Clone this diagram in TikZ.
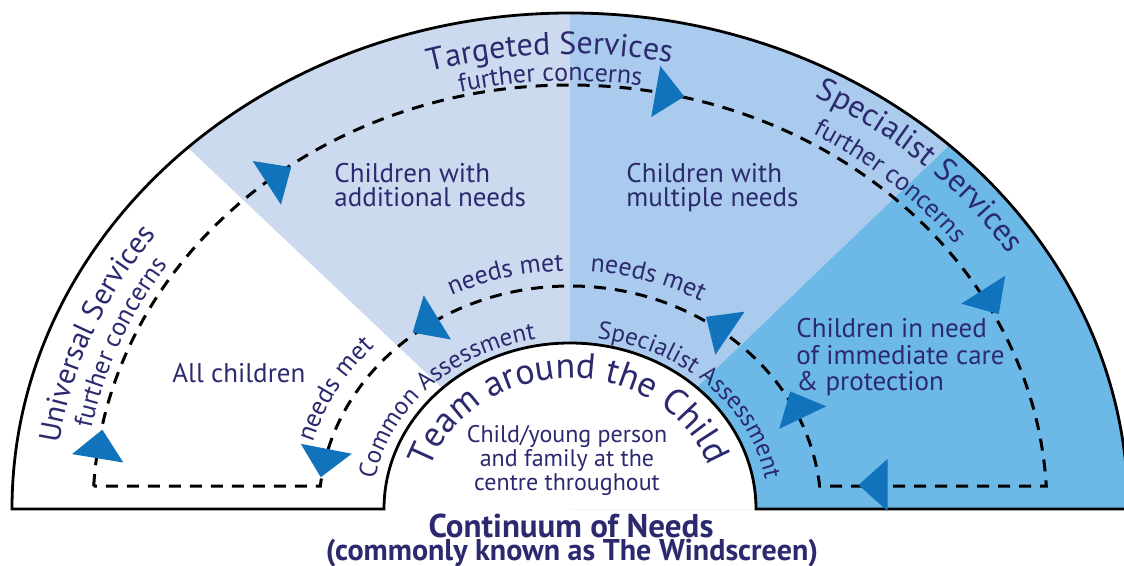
\documentclass[tikz,border=0pt]{standalone}
\usepackage{fontspec}
\setmainfont{PT Sans}
\usetikzlibrary{decorations.text}

\definecolor{navy}{RGB}{44,42,110}
\definecolor{targetedA}{RGB}{204,218,240}
\definecolor{targetedB}{RGB}{170,203,237}
\definecolor{specialist}{RGB}{108,184,230}
\definecolor{flowblue}{RGB}{16,115,187}

\newcommand\svcfont{\fontsize{16}{18}\selectfont}
\newcommand\univfont{\fontsize{15}{18}\selectfont}
\newcommand\concfont{\fontsize{13}{15}\selectfont}
\newcommand\bodyfont{\fontsize{13.5}{12}\selectfont}
\newcommand\carefont{\fontsize{13.5}{13.25}\selectfont}
\newcommand\teamfont{\fontsize{18}{20}\selectfont}
\newcommand\assessfont{\fontsize{12.5}{14}\selectfont}
\newcommand\metfont{\fontsize{13}{14}\selectfont}
\newcommand\centrefont{\fontsize{12}{10}\selectfont}
\newcommand\titlefont{\bfseries\fontsize{16.5}{18}\selectfont}
\newcommand\subtitlefont{\bfseries\fontsize{15}{18}\selectfont}

\tikzset{
  flowhead/.pic={\fill[flowblue] (14.5,0) -- (-14.5,26) -- (-14.5,-26) -- cycle;},
  arclabel/.style={decorate,decoration={text along path,text align=center,text color=navy,text={#1}}}
}

\begin{document}
\begin{tikzpicture}[x=0.5pt,y=0.5pt]
\tikzstyle{every node}+=[inner sep=0pt, text=navy]
\tikzstyle{outline}=[black, line width=1.4pt]
\tikzstyle{loop}=[black, line width=1.5pt, dash pattern=on 6pt off 4.5pt]
\useasboundingbox (0,0) rectangle (1124,-566);
\coordinate (O) at (570,-509);
\begin{scope}
\clip (12,-509) arc[start angle=180,end angle=0,x radius=558,y radius=496] -- cycle;
\fill[targetedA] (O) -- ([shift={(136.6:900)}]O) -- (570,100) -- cycle;
\fill[targetedB] (O) -- (570,100) -- ([shift={(43.8:900)}]O) -- cycle;
\fill[specialist] (O) -- ([shift={(43.8:900)}]O) -- (1300,-509) -- cycle;
\end{scope}
\fill[white] (384,-509) arc[start angle=180,end angle=0,x radius=186,y radius=166] -- cycle;
\draw[outline] (12,-509) arc[start angle=180,end angle=0,x radius=558,y radius=496] -- (756,-509) arc[start angle=0,end angle=180,x radius=186,y radius=166] -- cycle;
\draw[loop] ([shift={(176.9:477 and 424)}]O) arc[start angle=176.9,end angle=3.1,x radius=477,y radius=424] -- ([shift={(5.9:251 and 223)}]O) arc[start angle=5.9,end angle=174.1,x radius=251,y radius=223] -- cycle;
\pic[rotate=80.7] at (100,-444) {flowhead};
\pic[rotate=32.9] at (279,-175) {flowhead};
\pic[rotate=-10] at (670,-94) {flowhead};
\pic[rotate=-57.6] at (991,-302) {flowhead};
\pic[rotate=180] at (873,-485) {flowhead};
\pic[rotate=115.6] at (796.5,-404.5) {flowhead};
\pic[rotate=145.8] at (718,-325) {flowhead};
\pic[rotate=211.6] at (425,-325) {flowhead};
\pic[rotate=259] at (323.5,-463) {flowhead};
\path[arclabel={|\svcfont|Targeted Services}] ([shift={(122.3:512 and 455)}]O) arc[start angle=122.3,end angle=62.3,x radius=512,y radius=455];
\path[arclabel={|\concfont|further concerns}] ([shift={(122.4:481 and 428)}]O) arc[start angle=122.4,end angle=62.4,x radius=481,y radius=428];
\path[arclabel={|\univfont|Universal Services}] ([shift={(188:516 and 459)}]O) arc[start angle=188,end angle=128,x radius=516,y radius=459];
\path[arclabel={|\concfont|further concerns}] ([shift={(188:487 and 433)}]O) arc[start angle=188,end angle=128,x radius=487,y radius=433];
\path[arclabel={|\svcfont|Specialist Services}] ([shift={(77:524 and 466)}]O) arc[start angle=77,end angle=17,x radius=524,y radius=466];
\path[arclabel={|\concfont|further concerns}] ([shift={(78.2:487 and 433)}]O) arc[start angle=78.2,end angle=18.2,x radius=487,y radius=433];
\path[arclabel={|\teamfont|Team around the Child}] ([shift={(190.8:147 and 131)}]O) arc[start angle=190.8,end angle=-9.2,x radius=147,y radius=131];
\path[arclabel={|\assessfont|Common Assessment}] ([shift={(186:198 and 172)}]O) arc[start angle=186,end angle=86,x radius=198,y radius=172];
\path[arclabel={|\assessfont|Specialist Assessment}] ([shift={(95:198 and 172)}]O) arc[start angle=95,end angle=-5,x radius=198,y radius=172];
\path[arclabel={|\metfont|needs met}] ([shift={(175.7:268 and 238)}]O) arc[start angle=175.7,end angle=125.7,x radius=268,y radius=238];
\path[arclabel={|\metfont|needs met}] ([shift={(129:268 and 238)}]O) arc[start angle=129,end angle=79,x radius=268,y radius=238];
\path[arclabel={|\metfont|needs met}] ([shift={(98:268 and 238)}]O) arc[start angle=98,end angle=48,x radius=268,y radius=238];
\node[anchor=base west, font=\bodyfont] (allkids) at (172,-383) {All children};
\node[anchor=base west, align=left, font=\bodyfont] (addneeds) at (334,-207) {Children with\\additional needs};
\node[anchor=base west, align=left, font=\bodyfont] (multineeds) at (626,-207) {Children with\\multiple needs};
\node[anchor=base west, align=left, font=\carefont] (careneeds) at (796,-391) {Children in need\\of immediate care\\\& protection};
\node[anchor=base, align=center, font=\centrefont] (centre) at (567,-490) {Child/young person\\and family at the\\centre throughout};
\node[anchor=base, font=\titlefont] (title) at (571,-537) {Continuum of Needs};
\node[anchor=base, font=\subtitlefont] (subtitle) at (572,-560) {(commonly known as The Windscreen)};
\end{tikzpicture}
\end{document}
